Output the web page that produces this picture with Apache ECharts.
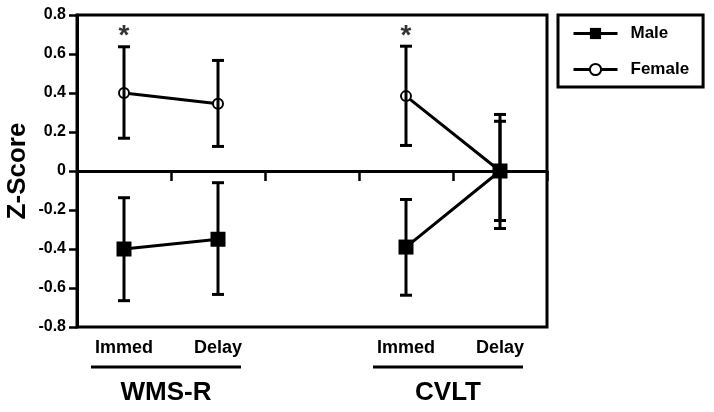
<!DOCTYPE html>
<html><head><meta charset="utf-8">
<script src="https://cdn.jsdelivr.net/npm/echarts@6/dist/echarts.min.js"></script>
<style>html,body{margin:0;padding:0;background:#fff}#c{width:714px;height:412px}</style>
</head><body><div id="c"></div>
<script>
const categories = ['Immed', 'Delay', '', 'Immed', 'Delay'];
const maleMean   = [-0.40, -0.35, null, -0.39, 0.00];
const maleLow    = [-0.665, -0.633, null, -0.637, -0.295];
const maleHigh   = [-0.137, -0.06, null, -0.146, 0.29];
const femaleMean = [0.40, 0.345, null, 0.384, 0.00];
const femaleLow  = [0.168, 0.126, null, 0.131, -0.254];
const femaleHigh = [0.637, 0.567, null, 0.64, 0.255];
const asteriskPoints = [[0, 0.69], [3, 0.69]];
const groups = [['WMS-R', 0, 1], ['CVLT', 3, 4]];

const FONT = 'Liberation Sans';
function errData(low, high) {
  const out = [];
  for (let i = 0; i < low.length; i++) if (low[i] != null) out.push([i, low[i], high[i]]);
  return out;
}
function errRender(params, api) {
  const x = api.value(0);
  const p1 = api.coord([x, api.value(1)]);
  const p2 = api.coord([x, api.value(2)]);
  const hw = 6;
  const st = { stroke: '#000', lineWidth: 3, fill: null };
  return { type: 'group', children: [
    { type: 'line', shape: { x1: p1[0], y1: p1[1], x2: p2[0], y2: p2[1] }, style: st },
    { type: 'line', shape: { x1: p1[0] - hw, y1: p1[1], x2: p1[0] + hw, y2: p1[1] }, style: st },
    { type: 'line', shape: { x1: p2[0] - hw, y1: p2[1], x2: p2[0] + hw, y2: p2[1] }, style: st }
  ]};
}
function groupRender(params, api) {
  const g = groups[params.dataIndex];
  const xs = api.coord([api.value(0), 0])[0] - 33;
  const xe = api.coord([api.value(1), 0])[0] + 23;
  const bottom = params.coordSys.y + params.coordSys.height;
  return { type: 'group', children: [
    { type: 'line', shape: { x1: xs, y1: bottom + 40, x2: xe, y2: bottom + 40 },
      style: { stroke: '#000', lineWidth: 3 } },
    { type: 'text', x: (xs + xe) / 2, y: bottom + 66,
      style: { text: g[0], fill: '#000', font: 'bold 26px ' + FONT, align: 'center', verticalAlign: 'middle' } }
  ]};
}

const chart = echarts.init(document.getElementById('c'));
chart.setOption({
  animation: false,
  backgroundColor: '#fff',
  grid: { left: 77, right: 167, top: 15, bottom: 85, containLabel: false, outerBoundsMode: 'none',
          show: true, borderColor: '#000', borderWidth: 3, backgroundColor: 'transparent' },
  legend: {
    orient: 'vertical', left: 558, top: 15, data: ['Male', 'Female'],
    borderColor: '#000', borderWidth: 3, padding: [10, 14, 9, 14],
    itemWidth: 44, itemHeight: 14, itemGap: 19,
    lineStyle: { width: 3 },
    textStyle: { color: '#000', fontFamily: FONT, fontWeight: 'bold', fontSize: 17, padding: [0, 0, 0, 8] }
  },
  xAxis: [
    { type: 'category', data: categories, boundaryGap: true,
      axisLine: { onZero: true, lineStyle: { color: '#000', width: 3 } },
      axisTick: { show: true, interval: 0, length: 10, lineStyle: { color: '#000', width: 2.5 } },
      axisLabel: { show: false }, splitLine: { show: false } },
    { type: 'category', data: categories, boundaryGap: true, position: 'bottom',
      axisLine: { show: false, onZero: false }, axisTick: { show: false },
      axisLabel: { show: true, interval: 0, margin: 12, color: '#000', fontFamily: FONT, fontWeight: 'bold', fontSize: 18 } }
  ],
  yAxis: {
    type: 'value', min: -0.8, max: 0.8, interval: 0.2,
    name: 'Z-Score', nameLocation: 'middle', nameRotate: 90, nameGap: 46, nameMoveOverlap: false,
    nameTextStyle: { color: '#000', fontFamily: FONT, fontWeight: 'bold', fontSize: 26 },
    axisLine: { show: true, lineStyle: { color: '#000', width: 3 } },
    axisTick: { show: true, length: 8, lineStyle: { color: '#000', width: 2.5 } },
    axisLabel: { color: '#000', fontFamily: FONT, fontWeight: 'bold', fontSize: 16, margin: 11,
      formatter: v => (Math.abs(v) < 1e-9 ? '0' : String(Math.round(v * 10) / 10)) },
    splitLine: { show: false }
  },
  series: [
    { type: 'custom', name: 'femaleErr', renderItem: errRender, data: errData(femaleLow, femaleHigh), z: 3, clip: false },
    { type: 'custom', name: 'maleErr', renderItem: errRender, data: errData(maleLow, maleHigh), z: 3, clip: false },
    { type: 'line', name: 'Female', data: femaleMean, connectNulls: false, symbol: 'emptyCircle', symbolSize: 10,
      lineStyle: { color: '#000', width: 3 }, itemStyle: { color: '#000', borderColor: '#000', borderWidth: 2.5 }, z: 2 },
    { type: 'line', name: 'Male', data: maleMean, connectNulls: false, symbol: 'rect', symbolSize: 15,
      lineStyle: { color: '#000', width: 3 }, itemStyle: { color: '#000' }, z: 4 },
    { type: 'scatter', name: 'asterisk', data: asteriskPoints, symbolSize: 1, itemStyle: { color: 'transparent' },
      label: { show: true, position: 'inside', formatter: '*', color: '#000', fontFamily: FONT, fontWeight: 'bold', fontSize: 28 }, z: 5 },
    { type: 'custom', name: 'groups', renderItem: groupRender, data: groups.map(g => [g[1], g[2]]), clip: false, silent: true }
  ]
});
</script></body></html>
